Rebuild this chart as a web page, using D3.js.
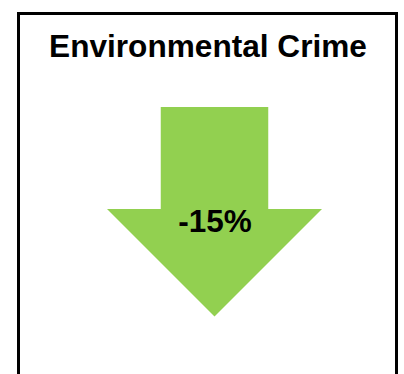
<!DOCTYPE html>
<html>
<head>
<meta charset="utf-8">
<script src="https://cdn.jsdelivr.net/npm/d3@7"></script>
<style>
  body { margin: 0; background: #fff; }
  svg { display: block; }
</style>
</head>
<body>
<div id="chart"></div>
<script>
// Indicator data
const categories = ['Environmental Crime'];
const changes = [-15];

const width = 404;
const height = 374;

const svg = d3.select('#chart')
    .append('svg')
    .attr('width', width)
    .attr('height', height);

// Framed panel (bottom edge runs off the picture)
svg.append('rect')
    .attr('x', 18.5)
    .attr('y', 13.5)
    .attr('width', 378)
    .attr('height', 400)
    .attr('fill', '#fff')
    .attr('stroke', '#000')
    .attr('stroke-width', 3);

svg.append('text')
    .attr('x', 208)
    .attr('y', 57)
    .attr('text-anchor', 'middle')
    .style('font-family', 'Liberation Sans, Arial, sans-serif')
    .style('font-weight', 'bold')
    .style('font-size', '31.6px')
    .text(categories[0]);

// Arrow shape in unit space, mapped to pixels by scales
const x = d3.scaleLinear().domain([0, 1]).range([107, 322]);
const y = d3.scaleLinear().domain([0, 1]).range([107, 316.5]);

const down = changes[0] < 0;
const shaft = [0.25, 0.75];
const neck = 0.487;
const shape = down
    ? [[shaft[0], 0], [shaft[1], 0], [shaft[1], neck], [1, neck], [0.5, 1], [0, neck], [shaft[0], neck]]
    : [[shaft[0], 1], [shaft[1], 1], [shaft[1], 1 - neck], [1, 1 - neck], [0.5, 0], [0, 1 - neck], [shaft[0], 1 - neck]];

const line = d3.line().x(d => x(d[0])).y(d => y(d[1]));

svg.append('path')
    .attr('d', line(shape) + 'Z')
    .attr('fill', down ? '#92D050' : '#E06666');

// plain hyphen for the sign, as in the original
const fmt = d3.formatLocale({ decimal: '.', thousands: ',', grouping: [3], currency: ['', ''], minus: '-' }).format('d');

svg.append('text')
    .attr('x', x(0.5) + 0.5)
    .attr('y', 232.3)
    .attr('text-anchor', 'middle')
    .style('font-family', 'Liberation Sans, Arial, sans-serif')
    .style('font-weight', 'bold')
    .style('font-size', '31.5px')
    .text(fmt(changes[0]) + '%');
</script>
</body>
</html>
